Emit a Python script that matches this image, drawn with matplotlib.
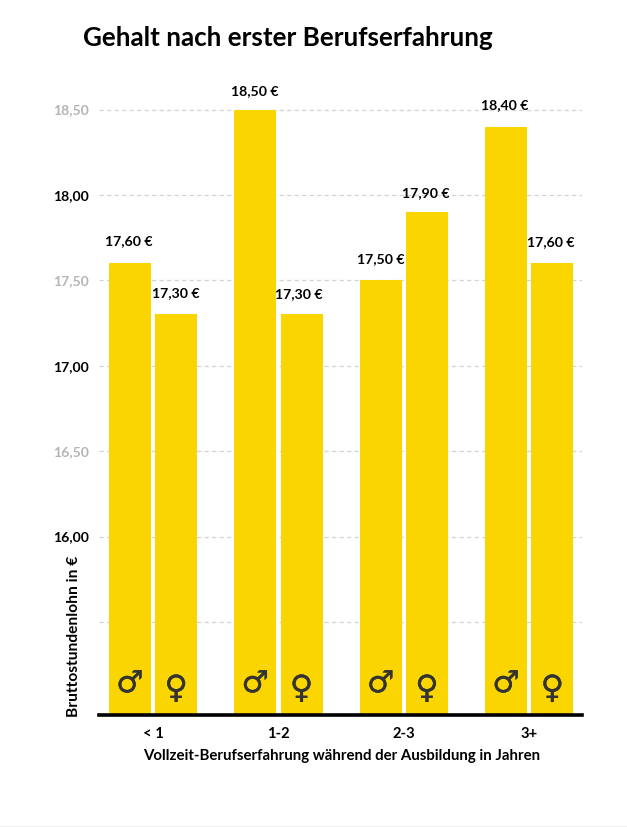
import numpy as np
import matplotlib
matplotlib.use("Agg")
from matplotlib import pyplot as plt
from matplotlib.patches import Rectangle
import matplotlib.patheffects as pe

categories = ["< 1", "1-2", "2-3", "3+"]
maenner = [17.6, 18.5, 17.5, 18.4]
frauen = [17.3, 17.3, 17.9, 17.6]
yticks = [15.5, 16.0, 16.5, 17.0, 17.5, 18.0, 18.5]
ylabels = ["", "16,00", "16,50", "17,00", "17,50", "18,00", "18,50"]
ylabel_colors = ["black", "black", "#b5b5b5", "black", "#b5b5b5", "black", "#b5b5b5"]

gelb = "#fbd500"
W, H = 627, 827

plt.rcParams["font.family"] = ["Lato", "DejaVu Sans"]
plt.rcParams["font.weight"] = "bold"

fig = plt.figure(figsize=(W / 100, H / 100), dpi=100, facecolor="#ececec")
fig.patches.append(Rectangle((0, 2.5 / H), 625.5 / W, 1, transform=fig.transFigure, color="white", zorder=-10))

# axes box: x 99-582 px, y 60-715 px
ax = fig.add_axes([99 / W, (H - 715) / H, 483 / W, 655 / H])
ax.patch.set_alpha(0)
px = 125.4
ax.set_xlim(-54 / px, 429 / px + 0.0)
ax.set_ylim(14.955, 14.955 + 655 / 170.8)

x = np.arange(len(categories))
off = 23.2 / px
w = 42 / px
ax.bar(x - off, maenner, w, bottom=0, color=gelb, zorder=2)
ax.bar(x + off, frauen, w, bottom=0, color=gelb, zorder=2)

ax.set_yticks(yticks)
ax.set_yticklabels(ylabels, fontsize=10.1)
for lab, c in zip(ax.get_yticklabels(), ylabel_colors):
    lab.set_color(c)
ax.tick_params(axis="y", length=0, pad=7.5)
ax.tick_params(axis="x", length=0, pad=9)
ax.set_xticks(x)
ax.set_xticklabels(categories, fontsize=10.6)
ax.grid(axis="y", color="#d4d4d4", linestyle=(0, (3.5, 2.5)), linewidth=0.9, zorder=1)
ax.set_axisbelow(True)

for s in ["top", "left", "right"]:
    ax.spines[s].set_visible(False)
ax.spines["bottom"].set_linewidth(2.6)
ax.spines["bottom"].set_color("black")
ax.spines["bottom"].set_zorder(5)

# value labels sit a bit unevenly in the original
dx_m = [-1, 0, 0, -1]
dy_m = [16, 13.5, 15, 15.5]
dx_f = [0, -2, -1, -1.5]
dy_f = [15.5, 14.5, 13.5, 15]
stroke = [pe.withStroke(linewidth=0.25, foreground="#333333")]
for i in x:
    t = ("%.2f €" % maenner[i]).replace(".", ",")
    ax.annotate(t, (i - off, maenner[i]), xytext=(dx_m[i], dy_m[i]), textcoords="offset points",
                ha="center", va="center", fontsize=10.2, annotation_clip=False)
    t = ("%.2f €" % frauen[i]).replace(".", ",")
    ax.annotate(t, (i + off, frauen[i]), xytext=(dx_f[i], dy_f[i]), textcoords="offset points",
                ha="center", va="center", fontsize=10.2, annotation_clip=False)
    ax.annotate("\u2642", (i - off, 14.955), xytext=(0, 22.5), textcoords="offset points", ha="center", va="center",
                fontsize=22, color="#333333", family="DejaVu Sans", fontweight="normal", zorder=4,
                path_effects=stroke)
    ax.annotate("\u2640", (i + off, 14.955), xytext=(0, 18.5), textcoords="offset points", ha="center", va="center",
                fontsize=23, color="#333333", family="DejaVu Sans", fontweight="normal", zorder=4,
                path_effects=stroke)

fig.text(83 / W, 1 - 38 / H, "Gehalt nach erster Berufserfahrung", fontsize=18.75, ha="left", va="center")
fig.text(73.5 / W, 1 - 717 / H, "Bruttostundenlohn in €", fontsize=11.2, rotation=90, ha="center", va="bottom")
fig.text(341.5 / W, 1 - 756 / H, "Vollzeit-Berufserfahrung während der Ausbildung in Jahren", fontsize=10.85,
         ha="center", va="center")

fig.savefig("out.png", dpi=100, facecolor=fig.get_facecolor())
